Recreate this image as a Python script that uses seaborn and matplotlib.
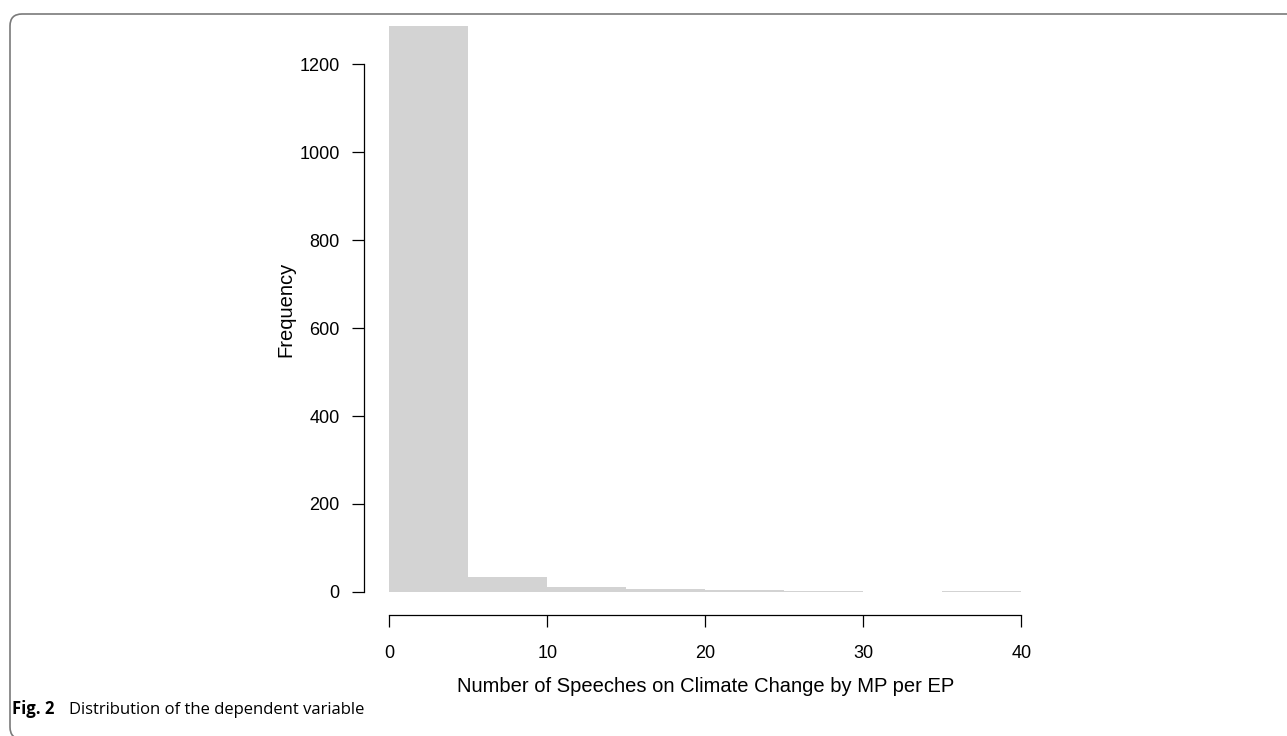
import numpy as np
import pandas as pd
import matplotlib
matplotlib.use("Agg")
import matplotlib.pyplot as plt
from matplotlib.patches import FancyBboxPatch
from matplotlib.transforms import IdentityTransform
import seaborn as sns

# ---- data ----
bin_edges = [0, 5, 10, 15, 20, 25, 30, 35, 40]
counts = [1287, 35, 11, 7, 5, 2, 0, 2]
x_ticks = [0, 10, 20, 30, 40]
y_ticks = [0, 200, 400, 600, 800, 1000, 1200]
x_label = "Number of Speeches on Climate Change by MP per EP"
y_label = "Frequency"
caption_bold = "Fig. 2"
caption_text = "Distribution of the dependent variable"

sns.set_style("white")
plt.rcParams["font.family"] = ["Liberation Sans", "DejaVu Sans"]
plt.rcParams["text.color"] = "black"
plt.rcParams["axes.labelcolor"] = "black"

W, H = 1287, 736
fig = plt.figure(figsize=(W / 100, H / 100), dpi=100)
fig.patch.set_facecolor("white")

# axes placement (pixel geometry of the reference)
left_px, right_px = 364, 1046.7
bottom_px, top_px = 614.6, 3.3
ax = fig.add_axes([left_px / W, 1 - bottom_px / H,
                   (right_px - left_px) / W, (bottom_px - top_px) / H])

edges = np.array(bin_edges, dtype=float)
df = pd.DataFrame({
    "value": (edges[:-1] + edges[1:]) / 2,
    "count": np.array(counts, dtype=float),
})
sns.histplot(data=df, x="value", weights="count", bins=list(bin_edges), ax=ax,
             color="#d3d3d3", alpha=1, edgecolor="none", linewidth=0)

xmax = max(bin_edges)
ymax = max(counts)
ax.set_xlim(-0.04 * xmax, xmax * 1.04)
ax.set_ylim(-0.04 * ymax, ymax * 1.04)

for s in ["top", "right"]:
    ax.spines[s].set_visible(False)
for s in ["left", "bottom"]:
    ax.spines[s].set_color("black")
    ax.spines[s].set_linewidth(0.9)
ax.spines["left"].set_bounds(min(y_ticks), max(y_ticks))
ax.spines["bottom"].set_bounds(min(x_ticks), max(x_ticks))

ax.set_xticks(x_ticks)
ax.set_yticks(y_ticks)
ax.set_xticklabels([str(t) for t in x_ticks])
ax.set_yticklabels([str(t) for t in y_ticks])
ax.tick_params(axis="both", direction="out", length=8.6, width=0.9,
               colors="black", labelsize=13, left=True, bottom=True)
ax.tick_params(axis="y", pad=9)
ax.tick_params(axis="x", pad=13.5)

ax.set_xlabel(x_label, fontsize=14.5, color="black")
ax.set_ylabel(y_label, fontsize=14.5, color="black")
ax.xaxis.set_label_coords(0.5, -(686 - bottom_px) / (bottom_px - top_px))
ax.xaxis.label.set_verticalalignment("center")
ax.yaxis.set_label_coords(-(left_px - 286) / (right_px - left_px), 0.5)
ax.yaxis.label.set_verticalalignment("center")
ax.grid(False)

# caption
fig.text(12 / W, 1 - 714 / H, caption_bold, fontsize=12, fontweight="bold",
         family=["Open Sans", "DejaVu Sans"], ha="left", va="baseline",
         color="black")
fig.text(69 / W, 1 - 714 / H, caption_text, fontsize=12,
         family=["Open Sans", "DejaVu Sans"], ha="left", va="baseline",
         color="black")

# rounded frame around the figure
frame = FancyBboxPatch((10, -3), 1300, 728 - 3,
                       boxstyle="round,pad=0,rounding_size=12",
                       transform=IdentityTransform(), fill=False,
                       edgecolor="#7a7a7a", linewidth=1.2, clip_on=False)
fig.patches.append(frame)

fig.savefig("out.png", dpi=100, facecolor="white")
